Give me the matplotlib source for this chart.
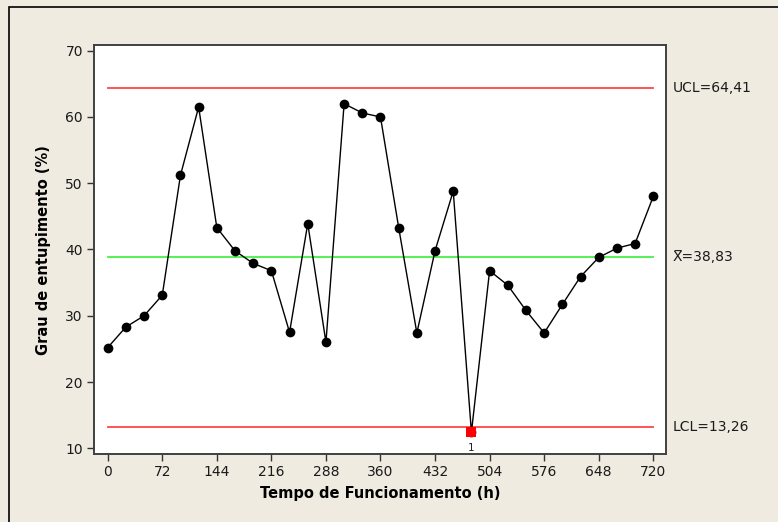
import matplotlib
matplotlib.use("Agg")
import matplotlib.pyplot as plt
from matplotlib.patches import Rectangle

# hours of operation and clogging degree (%)
hours = [24 * i for i in range(31)]
clogging = [25.2, 28.3, 30.0, 33.1, 51.2, 61.5, 43.3, 39.8, 37.9, 36.8,
            27.5, 43.9, 26.0, 62.0, 60.6, 60.0, 43.3, 27.4, 39.8, 48.8,
            12.4, 36.8, 34.6, 30.8, 27.4, 31.7, 35.9, 38.8, 40.2, 40.9,
            48.0]
ucl = 64.41
mean = 38.83
lcl = 13.26
x_ticks = [0, 72, 144, 216, 288, 360, 432, 504, 576, 648, 720]
y_ticks = [10, 20, 30, 40, 50, 60, 70]

bg = "#efebe0"
plt.rcParams["font.family"] = "DejaVu Sans"

fig = plt.figure(figsize=(7.78, 5.22), dpi=100, facecolor=bg)
fig.patches.append(Rectangle((9 / 778, -0.1), 1.2, 1 - 7 / 522 + 0.1,
                             transform=fig.transFigure, fill=False,
                             edgecolor="black", linewidth=1.2))

ax = fig.add_axes([94 / 778, 1 - 454.3 / 522, 572 / 778, 409.3 / 522])
ax.set_facecolor("white")

# control limits and centre line
ax.plot([hours[0], hours[-1]], [ucl, ucl], color="#ff4646", lw=1.3)
ax.plot([hours[0], hours[-1]], [lcl, lcl], color="#ff4646", lw=1.3)
ax.plot([hours[0], hours[-1]], [mean, mean], color="#46f046", lw=1.3)

ax.plot(hours, clogging, color="black", lw=1.0, marker="o", ms=7,
        markeredgewidth=0)

# points outside the limits
out = [i for i, v in enumerate(clogging) if v < lcl or v > ucl]
for i in out:
    ax.plot(hours[i], clogging[i], marker="s", color="#ff0000", ms=7,
            markeredgewidth=0, zorder=5)
    ax.annotate("1", (hours[i], clogging[i]), xytext=(0, -8),
                textcoords="offset points", ha="center", va="top",
                fontsize=7.5, color="#202020")

ax.set_xlim(-18.1, 736.8)
ax.set_ylim(9.09, 70.86)
ax.set_xticks(x_ticks)
ax.set_yticks(y_ticks)
ax.tick_params(direction="out", length=5, width=1, colors="#333333",
               labelsize=10, labelcolor="#1a1a1a", pad=3)
for s in ax.spines.values():
    s.set_color("#404040")
    s.set_linewidth(1.4)

ax.set_xlabel("Tempo de Funcionamento (h)", fontsize=10.5, fontweight="bold",
              labelpad=5)
ax.set_ylabel("Grau de entupimento (%)", fontsize=10.5, fontweight="bold",
              labelpad=10)

# limit labels on the right
for val, txt in [(ucl, "UCL=64,41"), (mean, "X\u0305=38,83"), (lcl, "LCL=13,26")]:
    ax.text(1.012, val, txt, transform=ax.get_yaxis_transform(),
            ha="left", va="center", fontsize=10, color="#1a1a1a")

fig.savefig("out.png", dpi=100, facecolor=bg)
